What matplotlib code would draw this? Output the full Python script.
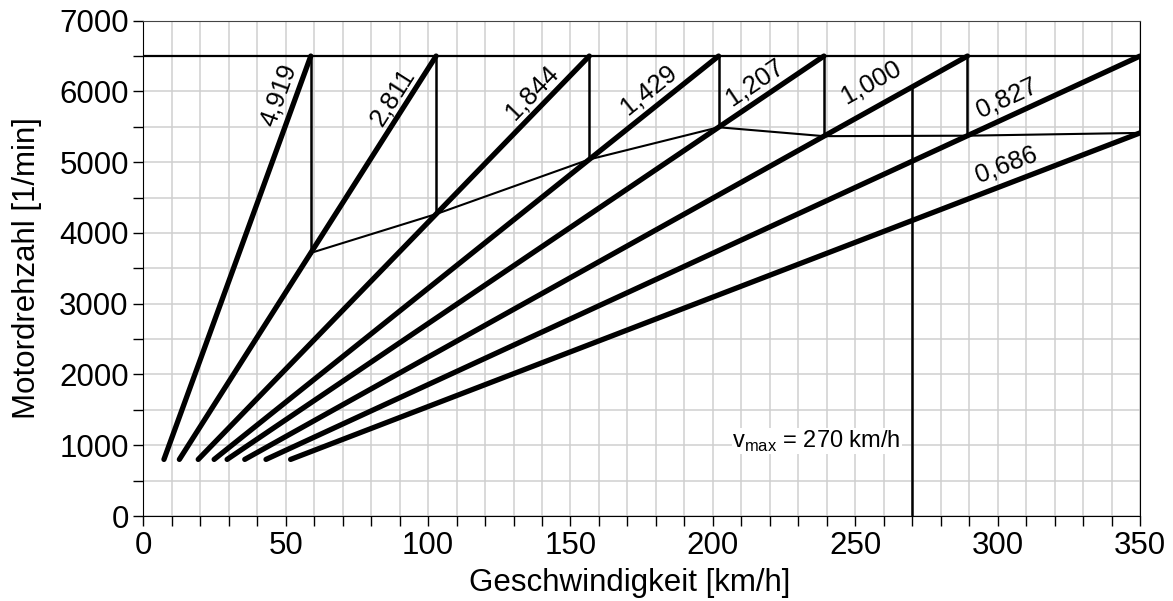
import numpy as np
import matplotlib
matplotlib.use("Agg")
import matplotlib.pyplot as plt

plt.rcParams['font.family'] = ['Liberation Sans', 'DejaVu Sans']

# gear ratios and the speed each gear reaches at the rev limit (6500 1/min)
ratios = ['4,919', '2,811', '1,844', '1,429', '1,207', '1,000', '0,827', '0,686']
v_at_nmax = [58.8, 102.8, 156.6, 202.0, 239.0, 289.4, 350.0, 420.2]
n_min = 800
n_max = 6500
v_end = 350
v_max = 270
# label anchor points (km/h, 1/min)
label_x = [47.6, 87.4, 136.4, 177.6, 214.6, 255.7, 303.2, 303.2]
label_y = [5955, 5928, 5984, 6026, 6125, 6139, 5913, 4968]

fig = plt.figure(figsize=(11.73, 6.01), dpi=100)
ax = fig.add_axes([0.1222, 0.1414, 0.8497, 0.8242])
ax.set_xlim(0, 350)
ax.set_ylim(0, 7000)

ax.set_xticks(np.arange(0, 351, 50))
ax.set_xticks(np.arange(0, 351, 10), minor=True)
ax.set_yticks(np.arange(0, 7001, 1000))
ax.set_yticks(np.arange(0, 7001, 500), minor=True)
ax.grid(True, which='both', color='#cfcfcf', lw=1.1, zorder=0)
ax.set_axisbelow(True)
ax.tick_params(which='both', direction='out', length=7.5, width=1.0, labelsize=22.5, pad=3)
for s in ['left', 'bottom', 'right']:
    ax.spines[s].set_color('black')
ax.spines['top'].set_color('#444444')

# rev limit line
ax.plot([0, v_end], [n_max, n_max], color='black', lw=1.6, zorder=3)

# gear lines
shift_v, shift_n = [], []
for i, vm in enumerate(v_at_nmax):
    k = n_max / vm
    v0 = n_min / k
    v1 = min(vm, v_end)
    ax.plot([v0, v1], [n_min, k * v1], color='black', lw=3.8,
            solid_capstyle='round', zorder=4)
    if i + 1 < len(v_at_nmax):
        n_next = v1 * n_max / v_at_nmax[i + 1]
        shift_v.append(v1)
        shift_n.append(n_next)
        ax.plot([v1, v1], [n_max, n_next], color='black', lw=1.8, zorder=3)
# last vertical at the end of the axis
n_last = v_end * n_max / v_at_nmax[-1]
ax.plot([v_end, v_end], [n_max, n_last], color='black', lw=1.8, zorder=3)
shift_v.append(v_end)
shift_n.append(n_last)
ax.plot(shift_v, shift_n, color='black', lw=1.5, zorder=3)

# v_max line up to the 6th gear
n_vmax = v_max * n_max / v_at_nmax[5]
ax.plot([v_max, v_max], [0, n_vmax], color='black', lw=1.8, zorder=3)
ax.text(v_max - 4, 1060, r'v$_\mathregular{max}$ = 270 km/h', fontsize=17,
        ha='right', va='center', zorder=5,
        bbox=dict(facecolor='white', edgecolor='none', pad=0.5))

fig.canvas.draw()
for i, lab in enumerate(ratios):
    vm = v_at_nmax[i]
    p = ax.transData.transform([[0, 0], [vm, n_max]])
    ang = np.degrees(np.arctan2(p[1, 1] - p[0, 1], p[1, 0] - p[0, 0]))
    ax.text(label_x[i], label_y[i], lab, fontsize=18.5, rotation=ang,
            rotation_mode='anchor', ha='center', va='center', zorder=5)

ax.set_xlabel('Geschwindigkeit [km/h]', fontsize=22.5, labelpad=3)
ax.xaxis.set_label_coords(0.488, -0.105)
ax.set_ylabel('Motordrehzahl [1/min]', fontsize=22.5, labelpad=12)

fig.savefig('out.png', dpi=100)
